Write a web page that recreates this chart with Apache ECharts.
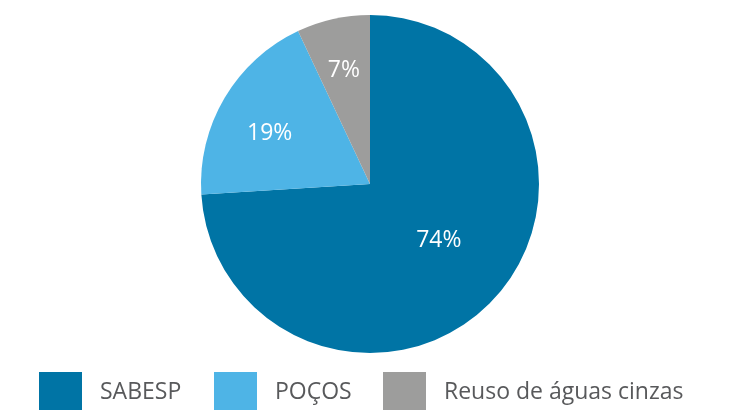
<!DOCTYPE html>
<html>
<head>
<meta charset="utf-8">
<script src="https://cdn.jsdelivr.net/npm/echarts@6/dist/echarts.min.js"></script>
<style>
  html, body { margin: 0; padding: 0; background: #fff; }
  #chart { width: 735px; height: 410px; }
</style>
</head>
<body>
<div id="chart"></div>
<script>
// dados
const categories = ['SABESP', 'POÇOS', 'Reuso de águas cinzas']
const values = [74, 19, 7]
const colors = ['#0074a5', '#4eb4e6', '#9d9d9c']
// deslocamento dos rótulos internos
const labelOffsets = [[5, -3], [-25, -6], [-7, -28]]
const legendLeft = [39, 214, 383]

const chart = echarts.init(document.getElementById('chart'))

const fontFamily = '"Open Sans", "Noto Sans", sans-serif'

const legends = categories.map((name, i) => ({
  data: [name],
  left: legendLeft[i],
  top: 372,
  orient: 'horizontal',
  icon: 'rect',
  itemWidth: 43,
  itemHeight: 40,
  itemGap: 0,
  padding: 0,
  selectedMode: false,
  textStyle: {
    color: '#58595b',
    fontSize: 23,
    fontFamily: fontFamily,
    padding: [3, 0, 0, 13]
  }
}))

chart.setOption({
  animation: false,
  color: colors,
  legend: legends,
  series: [
    {
      type: 'pie',
      center: [370, 184],
      radius: [0, 169],
      startAngle: 90,
      clockwise: true,
      label: {
        show: true,
        position: 'inside',
        color: '#fff',
        fontSize: 23,
        fontFamily: fontFamily,
        formatter: '{c}%'
      },
      labelLine: { show: false },
      emphasis: { disabled: true },
      data: categories.map((name, i) => ({
        name: name,
        value: values[i],
        label: { offset: labelOffsets[i] }
      }))
    }
  ]
})
</script>
</body>
</html>
